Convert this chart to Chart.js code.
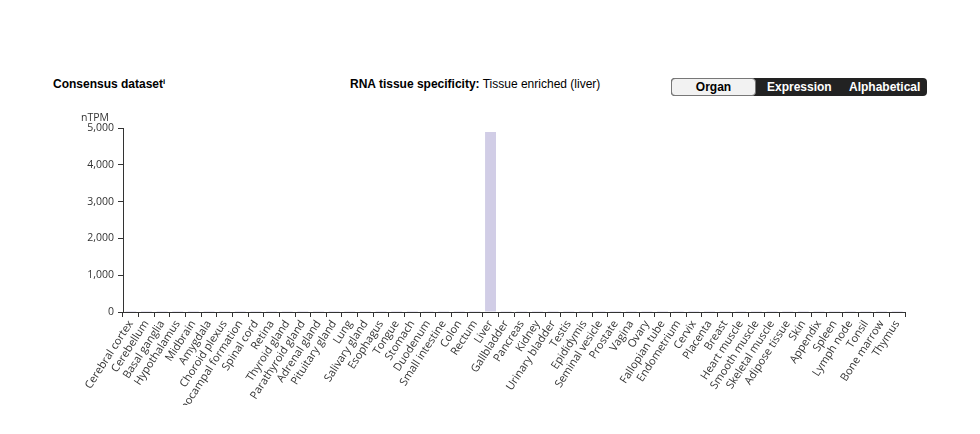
<!DOCTYPE html>
<html>
<head>
<meta charset="utf-8">
<script src="https://cdn.jsdelivr.net/npm/chart.js@4"></script>
<style>
body{margin:0;background:#fff;width:980px;height:434px;position:relative;overflow:hidden;font-family:"Liberation Sans",Arial,sans-serif;color:#000;}
.hdr{position:absolute;top:77px;font-size:12px;line-height:14px;white-space:nowrap;}
#ds{left:53px;font-weight:bold;}
#ds sup{font-size:8px;line-height:0;vertical-align:4px;}
#spec{left:350px;}
#spec b{font-weight:bold;}
#sorter{position:absolute;left:671px;top:78px;width:256px;height:18px;background:#222;border-radius:4px;font-size:12px;font-weight:bold;color:#fff;}
#sorter span{position:absolute;top:2px;}
#organ{position:absolute;left:0;top:0;width:83px;height:16px;background:#f2f2f2;border:1px solid #777;border-radius:4px;color:#000;text-align:center;line-height:16px;}
#wrap{position:absolute;left:0;top:100px;width:980px;height:305px;overflow:hidden;}
</style>
</head>
<body>
<div class="hdr" id="ds">Consensus dataset<sup>i</sup></div>
<div class="hdr" id="spec"><b>RNA tissue specificity:</b> Tissue enriched (liver)</div>
<div id="sorter"><div id="organ">Organ</div><span style="left:96px">Expression</span><span style="left:178px">Alphabetical</span></div>
<div id="wrap"><canvas id="c"></canvas></div>
<script>
const tissues = ["Cerebral cortex","Cerebellum","Basal ganglia","Hypothalamus","Midbrain","Amygdala","Choroid plexus","Hippocampal formation","Spinal cord","Retina","Thyroid gland","Parathyroid gland","Adrenal gland","Pituitary gland","Lung","Salivary gland","Esophagus","Tongue","Stomach","Duodenum","Small intestine","Colon","Rectum","Liver","Gallbladder","Pancreas","Kidney","Urinary bladder","Testis","Epididymis","Seminal vesicle","Prostate","Vagina","Ovary","Fallopian tube","Endometrium","Cervix","Placenta","Breast","Heart muscle","Smooth muscle","Skeletal muscle","Adipose tissue","Skin","Appendix","Spleen","Lymph node","Tonsil","Bone marrow","Thymus"];

// nTPM, only liver is visible, the rest are too small to read
const nTPM = [0.2,0.1,0.1,0.2,0.1,0.1,0.3,0.1,0.2,0.1,0.4,0.3,0.6,0.2,1.5,0.3,0.2,0.1,0.5,1.0,0.8,0.4,0.3,4890,2.0,0.6,1.2,0.3,0.2,0.2,0.3,0.2,0.2,0.2,0.3,0.2,0.2,0.5,0.3,0.2,0.3,0.1,0.4,0.2,0.3,0.4,0.3,0.3,0.4,0.2];

const yTicks = [0,1000,2000,3000,4000,5000];

const yFont = {family:"'Open Sans', sans-serif", size:10.5};
const xFont = {family:"'Open Sans', sans-serif", size:11};
const axisColor = "#333";

/* nTPM unit above the y axis */
const unitLabel = {
  id:"unitLabel",
  afterDraw(chart){
    const ctx = chart.ctx, a = chart.chartArea;
    ctx.save();
    ctx.font = "10.5px 'Open Sans', sans-serif";
    ctx.fillStyle = "#333";
    ctx.textAlign = "center";
    ctx.textBaseline = "alphabetic";
    ctx.fillText("nTPM", a.left - 28, a.top - 7);
    ctx.restore();
  }
};

new Chart(document.getElementById("c"),{
  type:"bar",
  data:{
    labels:tissues,
    datasets:[{
      data:nTPM,
      backgroundColor:"#d1cde6",
      categoryPercentage:1,
      barPercentage:0.7
    }]
  },
  options:{
    responsive:true,
    maintainAspectRatio:false,
    animation:false,
    layout:{padding:{left:0,top:28,right:75,bottom:0}},
    plugins:{legend:{display:false},tooltip:{enabled:false}},
    scales:{
      x:{
        grid:{display:true,drawOnChartArea:false,tickLength:5,color:axisColor},
        border:{color:axisColor},
        ticks:{color:"#333",font:xFont,minRotation:57,maxRotation:57,autoSkip:false,padding:1},
        afterFit(s){ s.height = 93; }
      },
      y:{
        min:0,max:5000,
        grid:{display:true,drawOnChartArea:false,tickLength:5,color:axisColor},
        border:{color:axisColor},
        afterBuildTicks(s){ s.ticks = yTicks.map(v=>({value:v})); },
        ticks:{color:"#333",font:yFont,padding:4},
        afterFit(s){ s.width = 123; }
      }
    }
  },
  plugins:[unitLabel]
});
</script>
</body>
</html>
